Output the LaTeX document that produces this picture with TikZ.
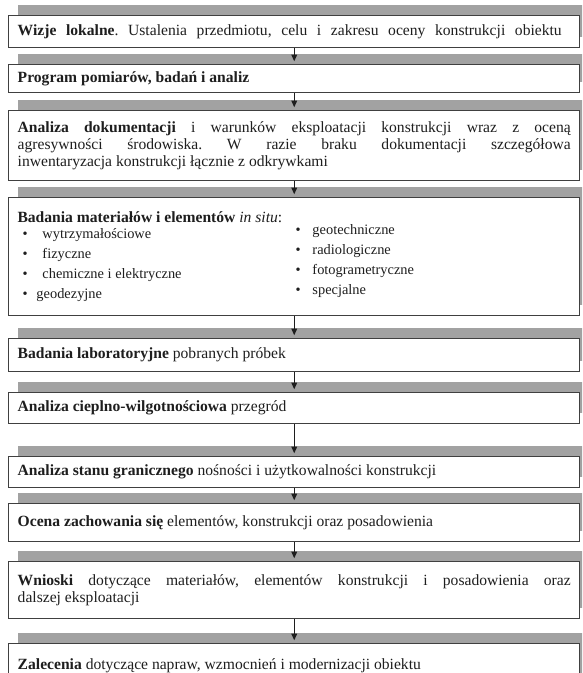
\documentclass[tikz,border=0pt]{standalone}
\usepackage{fontspec}
\setmainfont{Liberation Serif}
\usetikzlibrary{shadows}
\usetikzlibrary{arrows.meta}
\definecolor{barGray}{RGB}{162,162,162}
\definecolor{frameGray}{RGB}{64,64,64}
\definecolor{inkGray}{RGB}{30,30,30}
\tikzset{every picture/.style={line width=0.75pt}}
\tikzset{
  stage/.style={draw=frameGray, line width=1.1pt, fill=white, anchor=north west,
    text width=414.75pt, inner xsep=6.75pt, inner ysep=1pt, align=justify,
    text=inkGray, font=\fontsize{11.7}{12.4}\selectfont\frenchspacing,
    drop shadow={shadow xshift=6.75pt, shadow yshift=8pt, opacity=1, fill=barGray}},
  listText/.style={anchor=west, inner sep=0pt, text=inkGray, font=\fontsize{10.8}{12}\selectfont},
  flowArrow/.style={draw=inkGray, line width=1pt, -{Triangle[length=5pt,width=4.2pt]}, shorten >=2pt}
}

\begin{document}
\begin{tikzpicture}[x=0.75pt,y=0.75pt,yscale=-1,xscale=1]
\useasboundingbox (0,0) rectangle (582,673);
\clip (0,0) rectangle (582,673);
\fill[white] (0,0) rectangle (582,673);

%Shape: Rectangle [wizje]
\node[stage, minimum height=24pt] (wizje) at (8,15) {\makebox[408pt][s]{\textbf{Wizje lokalne}. Ustalenia przedmiotu, celu i zakresu oceny konstrukcji obiektu}};
%Shape: Rectangle [program]
\node[stage, minimum height=21pt] (program) at (8,64) {\textbf{Program pomiarów, badań i analiz}};
%Shape: Rectangle [dokumentacja]
\node[stage, minimum height=52.5pt] (dokumentacja) at (8,110) {\textbf{Analiza dokumentacji} i warunków eksploatacji konstrukcji wraz z oceną\linebreak agresywności środowiska. W razie braku dokumentacji szczegółowa\linebreak inwentaryzacja konstrukcji łącznie z odkrywkami};
%Shape: Rectangle [insitu]
\node[stage, minimum height=88.5pt] (insitu) at (8,197) {};
%Shape: Rectangle [laboratorium]
\node[stage, minimum height=24.75pt] (laboratorium) at (8,338) {\textbf{Badania laboratoryjne} pobranych próbek};
%Shape: Rectangle [cieplno]
\node[stage, minimum height=23.25pt] (cieplno) at (8,392) {\textbf{Analiza cieplno-wilgotnościowa} przegród};
%Shape: Rectangle [graniczny]
\node[stage, minimum height=23.25pt] (graniczny) at (8,456) {\textbf{Analiza stanu granicznego} nośności i użytkowalności konstrukcji};
%Shape: Rectangle [ocena]
\node[stage, minimum height=28.5pt] (ocena) at (8,503) {\textbf{Ocena zachowania się} elementów, konstrukcji oraz posadowienia};
%Shape: Rectangle [wnioski]
\node[stage, minimum height=42.75pt] (wnioski) at (8,561) {\textbf{Wnioski} dotyczące materiałów, elementów konstrukcji i posadowienia oraz\linebreak dalszej eksploatacji};
%Shape: Rectangle [zalecenia]
\node[stage, minimum height=33pt] (zalecenia) at (8,643) {\textbf{Zalecenia} dotyczące napraw, wzmocnień i modernizacji obiektu};

% Text Node
\node[listText, font=\fontsize{11.7}{12.4}\selectfont] (insituHead) at (17,217) {\textbf{Badania materiałów i elementów} \textit{in situ}:};
% Text Node
\node[listText] (wytrz) at (22,235) {\makebox[15pt][l]{\textbullet}wytrzymałościowe};
% Text Node
\node[listText] (fiz) at (22,255) {\makebox[15pt][l]{\textbullet}fizyczne};
% Text Node
\node[listText] (chem) at (22,275) {\makebox[15pt][l]{\textbullet}chemiczne i elektryczne};
% Text Node
\node[listText] (geod) at (22,295) {\makebox[10.5pt][l]{\textbullet}geodezyjne};
% Text Node
\node[listText] (geot) at (295,231) {\makebox[12.75pt][l]{\textbullet}geotechniczne};
% Text Node
\node[listText] (radio) at (295,251) {\makebox[12.75pt][l]{\textbullet}radiologiczne};
% Text Node
\node[listText] (foto) at (295,271) {\makebox[12.75pt][l]{\textbullet}fotogrametryczne};
% Text Node
\node[listText] (spec) at (295,291) {\makebox[12.75pt][l]{\textbullet}specjalne};

%Straight Lines
\draw[flowArrow] (wizje) -- (program);
\draw[flowArrow] (program) -- (dokumentacja);
\draw[flowArrow] (dokumentacja) -- (insitu);
\draw[flowArrow] (insitu) -- (laboratorium);
\draw[flowArrow] (laboratorium) -- (cieplno);
\draw[flowArrow] (cieplno) -- (graniczny);
\draw[flowArrow] (graniczny) -- (ocena);
\draw[flowArrow] (ocena) -- (wnioski);
\draw[flowArrow] (wnioski) -- (zalecenia);

\end{tikzpicture}
\end{document}
